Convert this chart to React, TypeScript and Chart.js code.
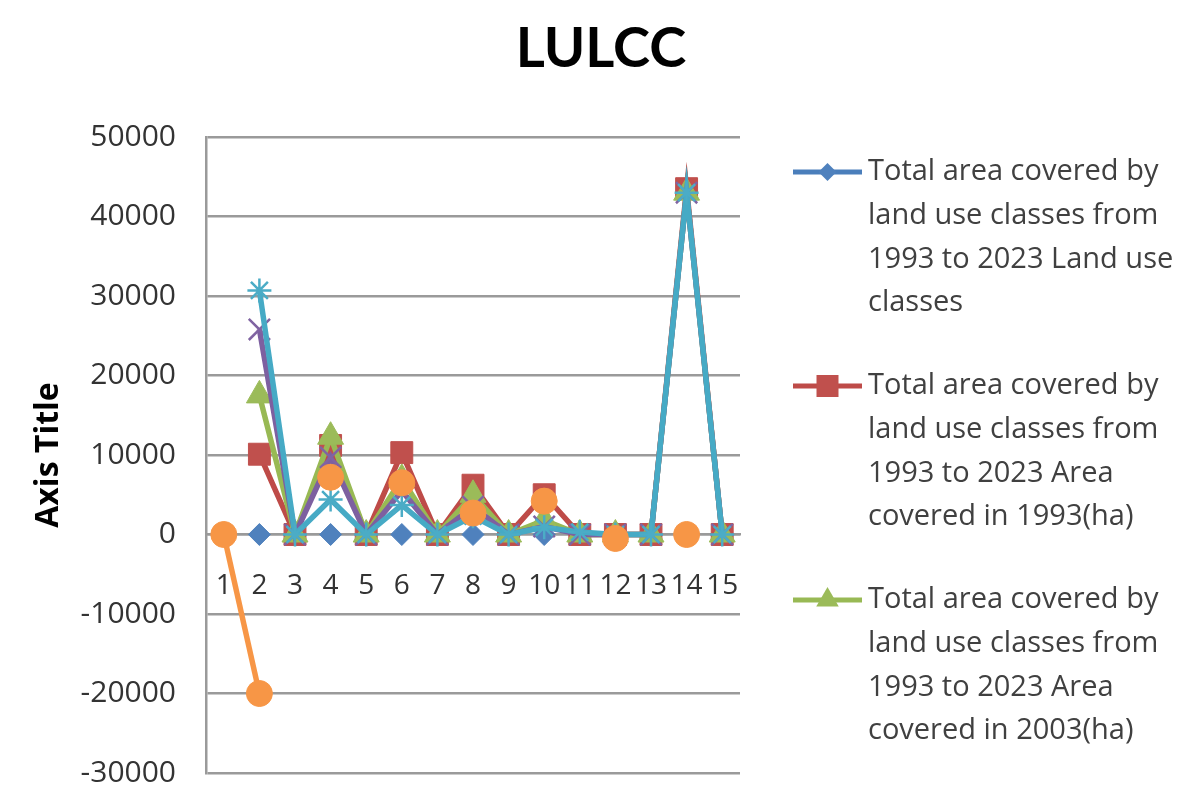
import React, { useEffect, useRef } from "react";
import { Chart, registerables } from "chart.js";

Chart.register(...registerables);

const FONT = "'Open Sans', Lato, 'Liberation Sans', sans-serif";
const TITLE_FONT = "Lato, 'Open Sans', sans-serif";

const chartTitle = "LULCC";
const yAxisTitle = "Axis Title";
const categories = ["1", "2", "3", "4", "5", "6", "7", "8", "9", "10", "11", "12", "13", "14", "15"];
const yTicks = { min: -30000, max: 50000, step: 10000 };

const landUseClasses = [null, 0, null, 0, null, 0, null, 0, null, 0, null, 0, null, 0, null];
const area1993 = [null, 10100, 0, 11200, 0, 10300, 0, 6200, 0, 5000, 0, 0, 0, 43500, 0];
const area2003 = [null, 17500, 0, 12300, 0, 7000, 0, 5000, 0, 1800, 0, 0, 0, 43000, 0];
const area2013 = [null, 25800, 0, 9700, 0, 5500, 0, 3500, 0, 1000, 0, 0, 0, 43000, 0];
const area2023 = [null, 30700, 0, 4400, 0, 3700, 0, 2300, 0, 900, 300, 0, 0, 43000, 0];
const areaChange = [0, -20000, null, 7200, null, 6500, null, 2700, null, 4200, null, -500, null, 0, null];

const seriesNames = [
  "Total area covered by land use classes from 1993 to 2023 Land use classes",
  "Total area covered by land use classes from 1993 to 2023 Area covered in 1993(ha)",
  "Total area covered by land use classes from 1993 to 2023 Area covered in 2003(ha)",
  "Total area covered by land use classes from 1993 to 2023 Area covered in 2013(ha)",
  "Total area covered by land use classes from 1993 to 2023 Area covered in 2023(ha)",
  "Total area covered by land use classes from 1993 to 2023 Change(ha)",
];

// legend text as wrapped in the reference (only first three entries are visible)
const legendLines = [
  ["Total area covered by", "land use classes from", "1993 to 2023 Land use", "classes"],
  ["Total area covered by", "land use classes from", "1993 to 2023 Area", "covered in 1993(ha)"],
  ["Total area covered by", "land use classes from", "1993 to 2023 Area", "covered in 2003(ha)"],
];

const lineColors = ["#4A7EBB", "#BE4B48", "#98B954", "#7D60A0", "#46AAC5", "#F79646"];
const markerColors = ["#4F81BD", "#C0504D", "#9BBB59", "#8064A2", "#4BACC6", "#F79646"];
const markerStyles = ["rectRot", "rect", "triangle", "crossRot", "star", "circle"];
const markerRadii = [11, 15.5, 15, 15, 12, 13];

function drawLegendMarker(ctx: CanvasRenderingContext2D, style: string, x: number, y: number, color: string) {
  ctx.save();
  ctx.fillStyle = color;
  ctx.beginPath();
  if (style === "rectRot") {
    const r = 9;
    ctx.moveTo(x - r, y);
    ctx.lineTo(x, y - r);
    ctx.lineTo(x + r, y);
    ctx.lineTo(x, y + r);
  } else if (style === "rect") {
    const s = 11;
    ctx.rect(x - s, y - s, 2 * s, 2 * s);
  } else {
    const r = 13;
    ctx.moveTo(x, y - r);
    ctx.lineTo(x + r * 0.866, y + r * 0.5);
    ctx.lineTo(x - r * 0.866, y + r * 0.5);
  }
  ctx.closePath();
  ctx.fill();
  ctx.restore();
}

const decorations = {
  id: "decorations",
  afterDraw(chart: any) {
    const ctx: CanvasRenderingContext2D = chart.ctx;
    const area = chart.chartArea;
    ctx.save();
    // chart title, centred on the whole picture
    ctx.fillStyle = "#000000";
    ctx.font = `bold 56px ${TITLE_FONT}`;
    ctx.textAlign = "center";
    ctx.textBaseline = "middle";
    ctx.fillText(chartTitle, chart.width / 2 + 1, 49);

    // side legend
    const lineStart = area.right + 53;
    const lineEnd = lineStart + 69;
    const textX = lineEnd + 6;
    const firstY = 172;
    const lineH = 43.7;
    const entryH = 214;
    legendLines.forEach((lines, i) => {
      const y0 = firstY + i * entryH;
      ctx.strokeStyle = lineColors[i];
      ctx.lineWidth = 5;
      ctx.beginPath();
      ctx.moveTo(lineStart, y0);
      ctx.lineTo(lineEnd, y0);
      ctx.stroke();
      drawLegendMarker(ctx, markerStyles[i], (lineStart + lineEnd) / 2, y0, markerColors[i]);
      ctx.fillStyle = "#404040";
      ctx.font = `29px ${FONT}`;
      ctx.textAlign = "left";
      ctx.textBaseline = "middle";
      lines.forEach((t, j) => ctx.fillText(t, textX, y0 + j * lineH));
    });
    ctx.restore();
  },
};

export default function App() {
  const canvasRef = useRef<HTMLCanvasElement | null>(null);

  useEffect(() => {
    const canvas = canvasRef.current;
    if (!canvas) return;
    const seriesData = [landUseClasses, area1993, area2003, area2013, area2023, areaChange];
    const chart = new Chart(canvas, {
      type: "line",
      data: {
        labels: categories,
        datasets: seriesData.map((d, i) => ({
          label: seriesNames[i],
          data: d,
          order: seriesData.length - i,
          borderColor: lineColors[i],
          backgroundColor: markerColors[i],
          borderWidth: 5.5,
          pointStyle: markerStyles[i] as any,
          pointRadius: markerRadii[i],
          pointBackgroundColor: markerColors[i],
          pointBorderColor: markerColors[i],
          pointBorderWidth: i === 3 || i === 4 ? 2.5 : 1,
          spanGaps: false,
          tension: 0,
        })),
      },
      options: {
        responsive: false,
        animation: false,
        devicePixelRatio: 1,
        layout: { padding: { left: 0, right: 460, top: 137, bottom: 33 } },
        plugins: {
          legend: { display: false },
          tooltip: { enabled: false },
          title: { display: false },
        },
        scales: {
          x: {
            type: "category",
            position: { y: 0 } as any,
            offset: true,
            afterFit: (scale: any) => {
              scale.height = 0;
              scale.paddingLeft = 0;
              scale.paddingRight = 0;
            },
            grid: { display: false, drawTicks: false },
            border: { display: true, color: "#9a9a9a", width: 2.5 },
            ticks: {
              autoSkip: false,
              maxRotation: 0,
              minRotation: 0,
              padding: 35,
              color: "#333333",
              font: { family: FONT, size: 28 },
            },
          },
          y: {
            min: yTicks.min,
            max: yTicks.max,
            afterFit: (scale: any) => {
              scale.width = 206;
              scale.paddingTop = 0;
              scale.paddingBottom = 0;
            },
            ticks: {
              stepSize: yTicks.step,
              padding: 30,
              color: "#333333",
              font: { family: FONT, size: 30 },
              callback: (v: any) => String(v),
            },
            grid: { color: "#9a9a9a", lineWidth: 2.5, drawTicks: false },
            border: { display: true, color: "#9a9a9a", width: 2.5 },
            title: {
              display: true,
              text: yAxisTitle,
              color: "#000000",
              font: { family: FONT, size: 32, weight: "bold" },
              padding: { top: 30, bottom: 0 },
            },
          },
        },
      },
      plugins: [decorations],
    });
    return () => chart.destroy();
  }, []);

  return (
    <div style={{ position: "absolute", left: 0, top: 0, width: 1200, height: 806, background: "#ffffff" }}>
      <canvas ref={canvasRef} width={1200} height={806} style={{ display: "block", width: 1200, height: 806 }} />
    </div>
  );
}
